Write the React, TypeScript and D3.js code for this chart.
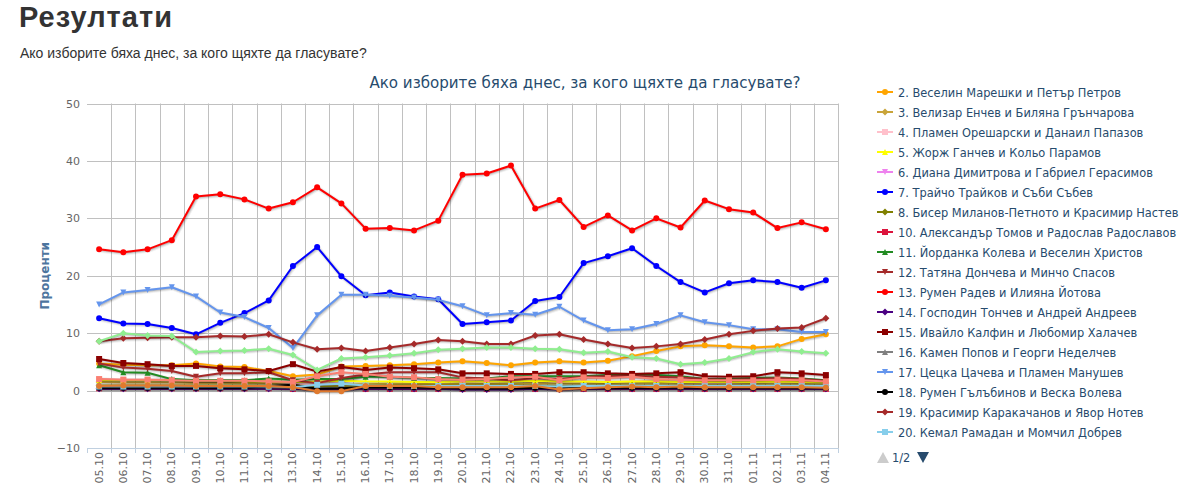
import React from "react";
import * as d3 from "d3";

// Survey dates (x categories)
const dates = [
  "05.10", "06.10", "07.10", "08.10", "09.10", "10.10", "11.10", "12.10",
  "13.10", "14.10", "15.10", "16.10", "17.10", "18.10", "19.10", "20.10",
  "21.10", "22.10", "23.10", "24.10", "25.10", "26.10", "27.10", "28.10",
  "29.10", "30.10", "31.10", "01.11", "02.11", "03.11", "04.11",
];

const yTicks = [-10, 0, 10, 20, 30, 40, 50];

// Percent values per candidate pair
const mareshki = [4.7, 4.5, 4.4, 4.4, 4.7, 4.2, 4.1, 3.4, 2.5, 2.8, 4.2, 4.3, 4.4, 4.6, 4.9, 5.1, 4.8, 4.4, 4.9, 5.1, 4.9, 5.2, 6.0, 6.9, 7.7, 7.9, 7.7, 7.5, 7.7, 9.0, 9.8];
const enchev = [1.5, 1.4, 1.4, 1.4, 1.3, 1.3, 1.3, 1.3, 1.2, 0.9, 1.0, 1.1, 1.2, 1.2, 1.1, 1.2, 1.2, 1.2, 1.3, 1.2, 1.3, 1.3, 1.4, 1.3, 1.4, 1.3, 1.3, 1.3, 1.4, 1.3, 1.3];
const oresharski = [2.0, 1.9, 1.9, 1.9, 1.8, 1.7, 1.7, 1.6, 1.3, 1.0, 1.5, 2.9, 2.5, 2.3, 1.9, 1.6, 1.5, 1.7, 1.8, 1.5, 1.6, 1.5, 1.6, 1.7, 1.5, 1.4, 1.4, 1.5, 1.6, 1.5, 1.4];
const ganchev = [1.8, 1.8, 1.8, 1.8, 1.7, 1.7, 1.6, 1.6, 1.5, 1.6, 1.7, 1.6, 1.6, 1.5, 1.5, 1.6, 1.6, 1.6, 1.7, 1.6, 1.6, 1.5, 1.6, 1.6, 1.5, 1.5, 1.5, 1.5, 1.6, 1.5, 1.4];
const dimitrova = [0.6, 0.6, 0.6, 0.6, 0.6, 0.5, 0.5, 0.5, 0.4, 0.3, 0.4, 0.5, 0.5, 0.5, 0.5, 0.5, 0.5, 0.5, 0.5, 0.4, 0.5, 0.5, 0.5, 0.5, 0.5, 0.5, 0.5, 0.5, 0.5, 0.5, 0.5];
const traykov = [12.6, 11.7, 11.6, 10.9, 9.8, 11.8, 13.5, 15.7, 21.7, 25.0, 19.9, 16.6, 17.1, 16.4, 15.9, 11.6, 11.9, 12.2, 15.6, 16.3, 22.2, 23.4, 24.8, 21.7, 18.9, 17.1, 18.7, 19.2, 18.9, 17.9, 19.2];
const milanov = [0.9, 0.9, 0.9, 0.9, 0.9, 0.9, 0.9, 0.9, 0.8, 0.6, 0.7, 0.8, 0.9, 0.9, 0.9, 0.9, 0.9, 0.9, 0.9, 0.8, 0.9, 0.9, 0.9, 0.9, 0.9, 0.9, 0.9, 0.9, 0.9, 0.9, 0.9];
const tomov = [0.4, 0.4, 0.4, 0.4, 0.4, 0.4, 0.4, 0.4, 0.3, 0.2, 0.3, 0.3, 0.3, 0.3, 0.3, 0.3, 0.3, 0.3, 0.3, 0.3, 0.3, 0.3, 0.3, 0.3, 0.3, 0.3, 0.3, 0.3, 0.3, 0.3, 0.3];
const koleva = [4.4, 3.2, 3.1, 2.0, 1.8, 1.8, 1.8, 2.1, 1.9, 2.0, 2.0, 2.4, 2.4, 2.2, 2.2, 2.1, 2.1, 2.5, 2.5, 2.5, 2.5, 2.7, 2.9, 2.7, 2.5, 2.0, 2.0, 2.2, 2.3, 2.1, 1.8];
const doncheva = [4.7, 4.0, 3.8, 3.4, 2.4, 3.0, 3.0, 3.2, 1.8, 1.3, 2.2, 2.8, 3.2, 3.2, 3.2, 2.3, 2.1, 1.8, 2.2, 2.0, 2.4, 2.5, 2.6, 2.4, 2.3, 2.0, 1.9, 2.0, 2.2, 2.0, 1.7];
const radev = [24.6, 24.1, 24.6, 26.2, 33.8, 34.2, 33.3, 31.7, 32.8, 35.4, 32.6, 28.2, 28.3, 27.9, 29.6, 37.6, 37.8, 39.2, 31.7, 33.2, 28.5, 30.5, 27.9, 30.0, 28.4, 33.1, 31.6, 31.0, 28.3, 29.3, 28.1];
const tonchev = [0.3, 0.3, 0.3, 0.3, 0.3, 0.3, 0.3, 0.3, 0.3, 0.2, 0.2, 0.3, 0.3, 0.3, 0.3, 0.2, 0.2, 0.2, 0.3, 0.2, 0.3, 0.3, 0.3, 0.3, 0.3, 0.3, 0.3, 0.3, 0.3, 0.3, 0.3];
const kalfin = [5.5, 4.8, 4.6, 4.3, 4.3, 3.9, 3.7, 3.4, 4.6, 3.3, 4.1, 3.6, 4.0, 3.9, 3.7, 3.0, 3.0, 2.9, 2.9, 3.2, 3.2, 3.0, 2.9, 3.0, 3.2, 2.5, 2.4, 2.5, 3.2, 3.0, 2.7];
const popov = [0.6, 0.6, 0.6, 0.6, 0.6, 0.6, 0.6, 0.6, 0.5, 0.4, 0.5, 0.6, 0.6, 0.6, 0.6, 0.5, 0.5, 0.5, 0.6, 0.5, 0.6, 0.6, 0.6, 0.6, 0.6, 0.6, 0.6, 0.6, 0.6, 0.6, 0.6];
const tsacheva = [15.0, 17.1, 17.5, 18.0, 16.4, 13.6, 12.8, 10.9, 7.4, 13.1, 16.7, 16.7, 16.5, 16.2, 15.8, 14.7, 13.1, 13.5, 13.2, 14.6, 12.2, 10.5, 10.7, 11.6, 13.1, 11.9, 11.4, 10.7, 10.7, 10.2, 10.2];
const galabinov = [0.5, 0.5, 0.5, 0.5, 0.5, 0.5, 0.5, 0.8, 1.0, 0.3, 0.4, 0.6, 0.6, 0.6, 0.5, 0.4, 0.4, 0.4, 0.5, 0.4, 0.5, 0.5, 0.5, 0.5, 0.6, 0.5, 0.5, 0.5, 0.5, 0.5, 0.5];
const karakachanov = [8.6, 9.1, 9.2, 9.3, 9.3, 9.5, 9.4, 9.8, 8.4, 7.2, 7.4, 6.9, 7.5, 8.1, 8.8, 8.6, 8.1, 8.1, 9.6, 9.8, 8.9, 8.1, 7.4, 7.7, 8.1, 8.9, 9.8, 10.4, 10.8, 11.0, 12.6];
const ramadan = [0.7, 0.7, 0.7, 0.7, 0.7, 0.7, 0.7, 0.7, 0.6, 1.0, 1.2, 0.9, 0.8, 0.8, 0.8, 0.8, 0.8, 0.8, 0.8, 0.7, 0.8, 0.8, 0.8, 0.8, 0.8, 0.8, 0.8, 0.8, 0.8, 0.8, 0.8];
// Series listed on the second legend page
const pageTwoA = [8.6, 10.0, 9.6, 9.5, 6.7, 6.9, 7.0, 7.3, 6.2, 3.6, 5.6, 5.8, 6.1, 6.5, 7.1, 7.3, 7.5, 7.5, 7.3, 7.2, 6.6, 6.8, 5.8, 5.6, 4.6, 4.9, 5.6, 6.7, 7.2, 6.8, 6.5];
const pageTwoB = [2.0, 1.9, 1.9, 1.8, 1.7, 1.7, 1.7, 1.6, 1.5, 2.5, 3.2, 2.9, 2.4, 2.3, 2.0, 1.9, 2.0, 2.3, 2.4, 1.8, 2.3, 2.2, 2.4, 2.0, 1.9, 1.8, 1.8, 1.8, 1.9, 1.8, 1.6];
const pageTwoC = [0.8, 0.9, 0.9, 0.9, 0.8, 0.8, 0.8, 0.8, 0.6, -0.1, -0.1, 0.8, 0.8, 0.8, 0.6, 0.6, 0.6, 0.6, 0.8, 0.2, 0.4, 0.6, 0.7, 0.6, 0.7, 0.6, 0.6, 0.6, 0.6, 0.6, 0.5];

type Marker = "circle" | "diamond" | "square" | "triangle" | "triangle-down";
interface Series {
  name: string;
  color: string;
  marker: Marker;
  values: number[];
  legend: boolean;
}

const series: Series[] = [
  { name: "2. Веселин Марешки и Петър Петров", color: "#FFA500", marker: "circle", values: mareshki, legend: true },
  { name: "3. Велизар Енчев и Биляна Грънчарова", color: "#C9A43A", marker: "diamond", values: enchev, legend: true },
  { name: "4. Пламен Орешарски и Данаил Папазов", color: "#FFC0CB", marker: "square", values: oresharski, legend: true },
  { name: "5. Жорж Ганчев и Кольо Парамов", color: "#FFFF00", marker: "triangle", values: ganchev, legend: true },
  { name: "6. Диана Димитрова и Габриел Герасимов", color: "#EE82EE", marker: "triangle-down", values: dimitrova, legend: true },
  { name: "7. Трайчо Трайков и Съби Събев", color: "#0000FF", marker: "circle", values: traykov, legend: true },
  { name: "8. Бисер Миланов-Петното и Красимир Настев", color: "#808000", marker: "diamond", values: milanov, legend: true },
  { name: "10. Александър Томов и Радослав Радославов", color: "#DC143C", marker: "square", values: tomov, legend: true },
  { name: "11. Йорданка Колева и Веселин Христов", color: "#228B22", marker: "triangle", values: koleva, legend: true },
  { name: "12. Татяна Дончева и Минчо Спасов", color: "#A52A2A", marker: "triangle-down", values: doncheva, legend: true },
  { name: "13. Румен Радев и Илияна Йотова", color: "#FF0000", marker: "circle", values: radev, legend: true },
  { name: "14. Господин Тончев и Андрей Андреев", color: "#4B0082", marker: "diamond", values: tonchev, legend: true },
  { name: "15. Ивайло Калфин и Любомир Халачев", color: "#8B0000", marker: "square", values: kalfin, legend: true },
  { name: "16. Камен Попов и Георги Неделчев", color: "#808080", marker: "triangle", values: popov, legend: true },
  { name: "17. Цецка Цачева и Пламен Манушев", color: "#6495ED", marker: "triangle-down", values: tsacheva, legend: true },
  { name: "18. Румен Гълъбинов и Веска Волева", color: "#000000", marker: "circle", values: galabinov, legend: true },
  { name: "19. Красимир Каракачанов и Явор Нотев", color: "#A52A2A", marker: "diamond", values: karakachanov, legend: true },
  { name: "20. Кемал Рамадан и Момчил Добрев", color: "#87CEEB", marker: "square", values: ramadan, legend: true },
  { name: "page-2-a", color: "#90EE90", marker: "diamond", values: pageTwoA, legend: false },
  { name: "page-2-b", color: "#FA8072", marker: "square", values: pageTwoB, legend: false },
  { name: "page-2-c", color: "#E07A2E", marker: "circle", values: pageTwoC, legend: false },
];

const FONT = '"DejaVu Sans", Verdana, sans-serif';
const W = 1196;
const H = 493;
const plot = { left: 87, right: 838, top: 103.5, bottom: 448 };
const R = 3;

function markerPath(kind: Marker, x: number, y: number, r: number): string {
  switch (kind) {
    case "circle":
      return `M${x - r},${y}a${r},${r} 0 1,0 ${2 * r},0a${r},${r} 0 1,0 ${-2 * r},0Z`;
    case "square":
      return `M${x - r},${y - r}h${2 * r}v${2 * r}h${-2 * r}Z`;
    case "diamond":
      return `M${x},${y - r - 0.5}L${x + r + 0.5},${y}L${x},${y + r + 0.5}L${x - r - 0.5},${y}Z`;
    case "triangle":
      return `M${x},${y - r}L${x + r},${y + r}L${x - r},${y + r}Z`;
    case "triangle-down":
      return `M${x - r},${y - r}L${x + r},${y - r}L${x},${y + r}Z`;
  }
}

export default function App() {
  const x = d3.scaleBand<string>().domain(dates).range([plot.left, plot.right]);
  const y = d3.scaleLinear().domain([-10, 50]).range([plot.bottom, plot.top]);
  const cx = (d: string) => (x(d) ?? 0) + x.bandwidth() / 2;
  const line = d3
    .line<number>()
    .x((_, i) => cx(dates[i]))
    .y((v) => y(v));

  const boundaries = dates.map((d) => x(d) ?? 0).concat([plot.right]);
  const legendItems = series.filter((s) => s.legend);

  return (
    <svg
      width={W}
      height={H}
      style={{ position: "absolute", left: 0, top: 0, background: "#fff" }}
    >
      {/* page header */}
      <text x={19} y={27} fontFamily='"Liberation Sans", Arial, sans-serif' fontWeight="bold" fontSize={29} letterSpacing={1} fill="#333">
        Резултати
      </text>
      <text x={20} y={58} fontFamily='"Liberation Sans", Arial, sans-serif' fontSize={14} fill="#333">
        Ако изборите бяха днес, за кого щяхте да гласувате?
      </text>

      {/* chart title */}
      <text x={585} y={88} textAnchor="middle" fontFamily={FONT} fontSize={15.1} fill="#274b6d">
        Ако изборите бяха днес, за кого щяхте да гласувате?
      </text>

      {/* grid */}
      <g>
        {yTicks.map((t) => (
          <line key={t} x1={plot.left} x2={plot.right} y1={Math.round(y(t)) + 0.5} y2={Math.round(y(t)) + 0.5} stroke="#C0C0C0" strokeWidth={1} />
        ))}
        {boundaries.slice(1).map((bx, i) => (
          <line key={i} x1={Math.round(bx) + 0.5} x2={Math.round(bx) + 0.5} y1={plot.top} y2={plot.bottom} stroke="#C0C0C0" strokeWidth={1} />
        ))}
      </g>

      {/* x axis */}
      <line x1={plot.left} x2={plot.right} y1={Math.round(plot.bottom) + 0.5} y2={Math.round(plot.bottom) + 0.5} stroke="#C0D0E0" />
      {boundaries.map((bx, i) => (
        <line key={i} x1={Math.round(bx) + 0.5} x2={Math.round(bx) + 0.5} y1={plot.bottom} y2={plot.bottom + 5} stroke="#C0D0E0" />
      ))}
      {dates.map((d) => (
        <text
          key={d}
          transform={`translate(${cx(d) + 3.5},${plot.bottom + 4}) rotate(-90)`}
          textAnchor="end"
          fontFamily={FONT}
          fontSize={11}
          fill="#666"
        >
          {d}
        </text>
      ))}

      {/* y axis labels */}
      {yTicks.map((t) => (
        <text key={t} x={80} y={y(t) + 4} textAnchor="end" fontFamily={FONT} fontSize={11} fill="#666">
          {t < 0 ? `−${Math.abs(t)}` : t}
        </text>
      ))}
      <text
        transform={`translate(49,${(plot.top + plot.bottom) / 2}) rotate(-90)`}
        textAnchor="middle"
        fontFamily={FONT}
        fontWeight="bold"
        fontSize={12}
        fill="#4d759e"
      >
        Проценти
      </text>

      {/* series */}
      {series.map((s) => {
        const d = line(s.values) ?? "";
        return (
          <g key={s.name}>
            {[1, 2, 3].map((k) => (
              <path
                key={k}
                d={d}
                fill="none"
                stroke="#000"
                strokeOpacity={0.05 * k}
                strokeWidth={7 - 2 * k}
                strokeLinejoin="round"
                transform="translate(1,1)"
              />
            ))}
            <path d={d} fill="none" stroke={s.color} strokeWidth={2} strokeLinejoin="round" strokeLinecap="round" />
            {s.values.map((v, i) => (
              <path key={i} d={markerPath(s.marker, cx(dates[i]), y(v), R)} fill={s.color} />
            ))}
          </g>
        );
      })}

      {/* legend */}
      <g>
        {legendItems.map((s, i) => {
          const iy = 92 + i * 20;
          return (
            <g key={s.name}>
              <line x1={877} x2={893} y1={iy} y2={iy} stroke={s.color} strokeWidth={2} />
              <path d={markerPath(s.marker, 885, iy, R)} fill={s.color} />
              <text x={898} y={iy + 4.5} fontFamily={FONT} fontSize={11.4} fill="#274b6d">
                {s.name}
              </text>
            </g>
          );
        })}
        <path d="M877,463L883,452L889,463Z" fill="#CCCCCC" />
        <text x={892} y={462} fontFamily={FONT} fontSize={11.4} fill="#274b6d">
          1/2
        </text>
        <path d="M917,452L929,452L923,463Z" fill="#274b6d" />
      </g>
    </svg>
  );
}
